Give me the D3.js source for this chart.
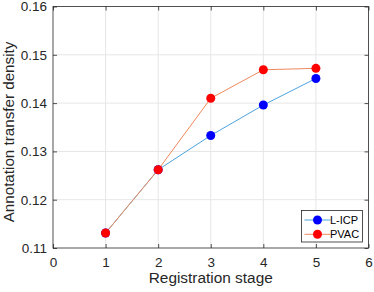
<!DOCTYPE html>
<html>
<head>
<meta charset="utf-8">
<script src="https://cdn.jsdelivr.net/npm/d3@7"></script>
<style>
  body { margin: 0; background: #fff; }
  svg { display: block; font-family: "Liberation Sans", Arial, sans-serif; }
</style>
</head>
<body>
<div id="container"></div>
<script>
// data
const stages = [1, 2, 3, 4, 5];
const licp = [0.1131, 0.1262, 0.1333, 0.1396, 0.1451];
const pvac = [0.1131, 0.1262, 0.1410, 0.1469, 0.1472];
const xTicks = [0, 1, 2, 3, 4, 5, 6];
const yTicks = [0.11, 0.12, 0.13, 0.14, 0.15, 0.16];

const width = 374;
const height = 292;
const margin = { top: 6.5, right: 5.5, bottom: 44, left: 53 };

const svg = d3.select('div#container').append('svg')
    .attr('width', width)
    .attr('height', height);

const x = d3.scaleLinear().domain([0, 6]).range([margin.left, width - margin.right]);
const y = d3.scaleLinear().domain([0.11, 0.16]).range([height - margin.bottom, margin.top]);

// grid
svg.append('g').selectAll('line.gx')
  .data(xTicks.slice(1, -1))
  .enter().append('line')
  .attr('x1', d => x(d)).attr('x2', d => x(d))
  .attr('y1', y(0.11)).attr('y2', y(0.16))
  .attr('stroke', '#e6e6e6').attr('stroke-width', 1);
svg.append('g').selectAll('line.gy')
  .data(yTicks.slice(1, -1))
  .enter().append('line')
  .attr('x1', x(0)).attr('x2', x(6))
  .attr('y1', d => y(d)).attr('y2', d => y(d))
  .attr('stroke', '#e6e6e6').attr('stroke-width', 1);

// box
svg.append('rect')
  .attr('x', x(0)).attr('y', y(0.16))
  .attr('width', x(6) - x(0)).attr('height', y(0.11) - y(0.16))
  .attr('fill', 'none').attr('stroke', '#262626').attr('stroke-width', 0.8);

// axes
svg.append('g')
  .attr('transform', `translate(0,${y(0.11)})`)
  .call(d3.axisBottom(x).tickValues(xTicks).tickFormat(d3.format('d'))
    .tickSizeInner(-4).tickSizeOuter(0).tickPadding(9));
svg.append('g')
  .attr('transform', `translate(${x(0)},0)`)
  .call(d3.axisLeft(y).tickValues(yTicks).tickFormat(d3.format('.2f'))
    .tickSizeInner(-4).tickSizeOuter(0).tickPadding(6));
// right/top ticks
svg.append('g')
  .attr('transform', `translate(${x(6)},0)`)
  .call(d3.axisRight(y).tickValues(yTicks).tickFormat('').tickSizeInner(-4).tickSizeOuter(0));
svg.append('g')
  .attr('transform', `translate(0,${y(0.16)})`)
  .call(d3.axisTop(x).tickValues(xTicks).tickFormat('').tickSizeInner(-4).tickSizeOuter(0));

svg.selectAll('.domain').remove();
svg.selectAll('.tick line').attr('stroke', '#262626').attr('stroke-width', 0.8);
svg.selectAll('.tick text').attr('fill', '#262626').style('font-size', '13.5px')
  .style('font-family', '"Liberation Sans", Arial, sans-serif');

// labels
svg.append('text')
  .attr('x', (x(0) + x(6)) / 2).attr('y', 283)
  .attr('text-anchor', 'middle')
  .attr('fill', '#262626')
  .style('font-size', '15.4px')
  .text('Registration stage');
svg.append('text')
  .attr('transform', `translate(13.5,132) rotate(-90)`)
  .attr('text-anchor', 'middle')
  .attr('fill', '#262626')
  .style('font-size', '15.2px')
  .text('Annotation transfer density');

// series
const series = [
  { name: 'L-ICP', values: licp, line: '#4da3dd', marker: '#0000ff' },
  { name: 'PVAC', values: pvac, line: '#ee8a5c', marker: '#ff0000' }
];
const line = d3.line().x((d, i) => x(stages[i])).y(d => y(d));

series.forEach(s => {
  svg.append('path')
    .datum(s.values)
    .attr('d', line)
    .attr('fill', 'none')
    .attr('stroke', s.line)
    .attr('stroke-width', 1);
});
series.forEach(s => {
  svg.append('g').selectAll('circle')
    .data(s.values)
    .enter().append('circle')
    .attr('cx', (d, i) => x(stages[i]))
    .attr('cy', d => y(d))
    .attr('r', 4.5)
    .attr('fill', s.marker);
});

// legend
const lg = svg.append('g').attr('transform', 'translate(301.5,210.5)');
lg.append('rect')
  .attr('width', 61).attr('height', 31.5)
  .attr('fill', '#fff').attr('stroke', '#262626').attr('stroke-width', 0.8);
series.forEach((s, i) => {
  const yy = 9.5 + i * 14.3;
  lg.append('line')
    .attr('x1', 3).attr('x2', 29).attr('y1', yy).attr('y2', yy)
    .attr('stroke', s.line).attr('stroke-width', 1);
  lg.append('circle')
    .attr('cx', 16).attr('cy', yy).attr('r', 4.5).attr('fill', s.marker);
  lg.append('text')
    .attr('x', 28.5).attr('y', yy + 4)
    .attr('fill', '#000')
    .style('font-size', '11px')
    .text(s.name);
});
</script>
</body>
</html>
